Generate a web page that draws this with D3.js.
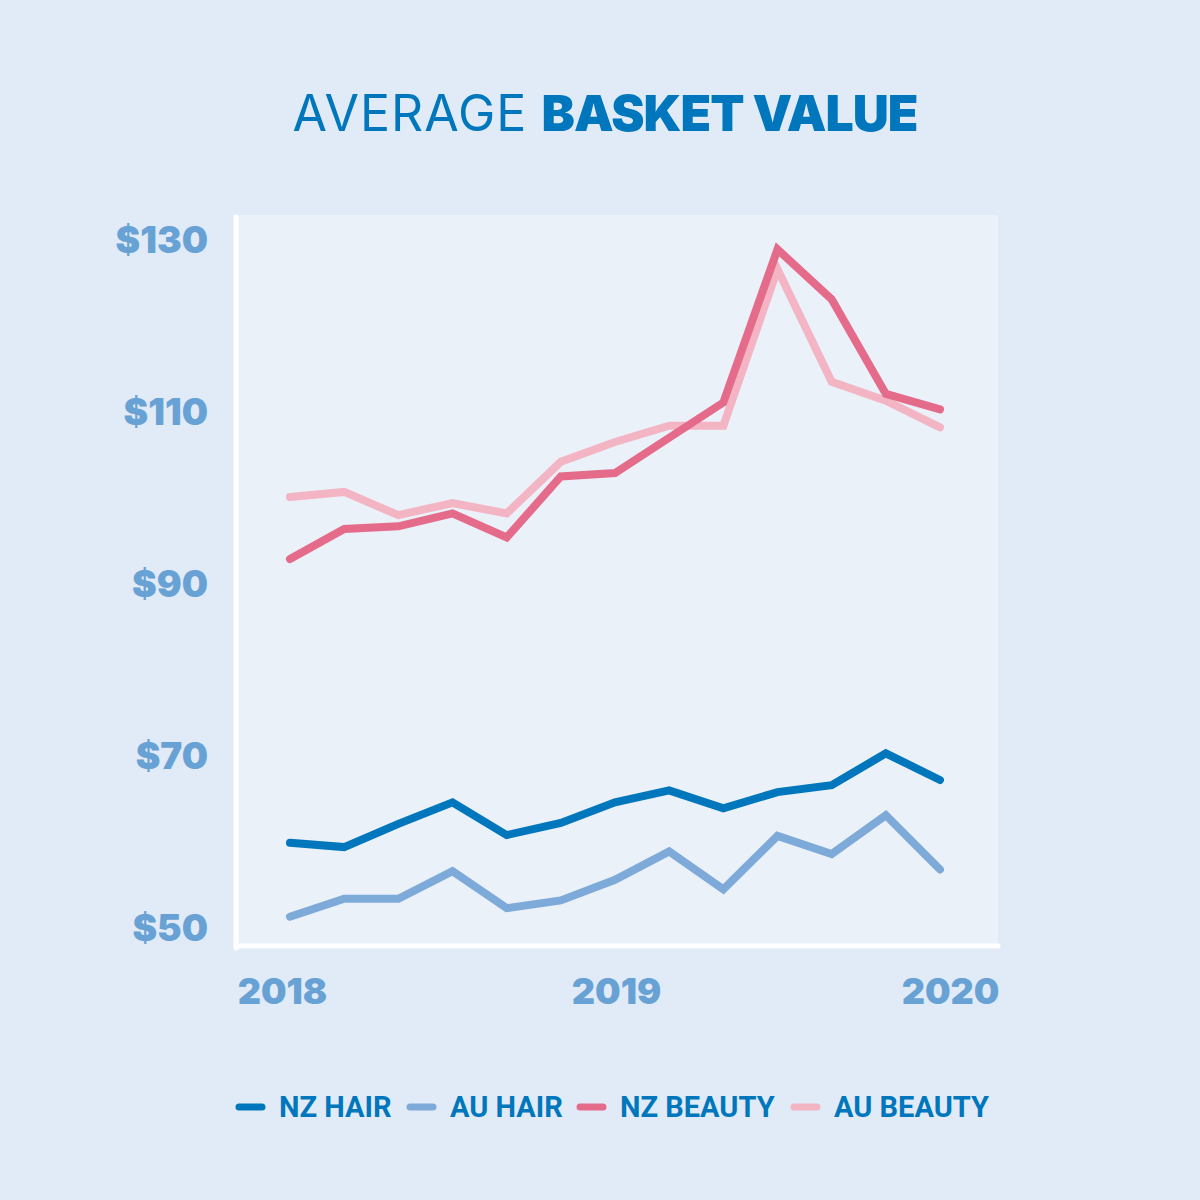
<!DOCTYPE html>
<html>
<head>
<meta charset="utf-8">
<script src="https://cdn.jsdelivr.net/npm/d3@7"></script>
<style>
  html, body { margin: 0; padding: 0; background: #e1ebf7; }
  svg { display: block; }
</style>
</head>
<body>
<div id="plot"></div>
<script>
    // Periods (roughly every two months, Jan 2018 - Jan 2020)
    const periods = ['Jan 18', 'Mar 18', 'May 18', 'Jul 18', 'Sep 18', 'Nov 18',
        'Jan 19', 'Mar 19', 'May 19', 'Jul 19', 'Sep 19', 'Nov 19', 'Jan 20'];

    const nzHair = [59.8, 59.3, 62.0, 64.5, 60.7, 62.1, 64.5, 65.9, 63.8, 65.7, 66.5, 70.2, 67.1];
    const auHair = [51.2, 53.3, 53.3, 56.5, 52.2, 53.1, 55.5, 58.8, 54.4, 60.6, 58.5, 63.0, 56.7];
    const nzBeauty = [92.8, 96.3, 96.6, 98.1, 95.3, 102.4, 102.8, 106.9, 111.0, 128.8, 123.0, 112.0, 110.2];
    const auBeauty = [100.0, 100.6, 97.9, 99.3, 98.1, 104.1, 106.4, 108.3, 108.3, 126.5, 113.4, 111.2, 108.1];

    const seriesNames = ['NZ HAIR', 'AU HAIR', 'NZ BEAUTY', 'AU BEAUTY'];
    const seriesColors = ['#0077bc', '#7eaad9', '#e56b8b', '#f3b5c4'];

    const yTicks = [50, 70, 90, 110, 130];
    const xTickLabels = ['2018', '2019', '2020'];

    const series = [nzHair, auHair, nzBeauty, auBeauty];

    const svgWidth = 1200;
    const svgHeight = 1200;
    const plot = { left: 236, right: 998, top: 215, bottom: 946 };

    const svg = d3.select('#plot')
        .append('svg')
        .attr('width', svgWidth)
        .attr('height', svgHeight);

    svg.append('rect')
        .attr('width', svgWidth)
        .attr('height', svgHeight)
        .attr('fill', '#e1ebf7');

    // Title
    const title = svg.append('text')
        .attr('x', 605)
        .attr('y', 131)
        .attr('text-anchor', 'middle')
        .attr('fill', '#0077bc')
        .style('font-family', 'Inter, sans-serif')
        .style('font-size', '50px');
    title.append('tspan').text('AVERAGE').style('font-weight', 400).style('letter-spacing', '1px');
    title.append('tspan').text(' ').style('font-weight', 400);
    title.append('tspan').text('BASKET VALUE').style('font-weight', 900).style('letter-spacing', '-1px');

    // Scales
    const xScale = d3.scalePoint()
        .domain(periods)
        .range([290, 940]);

    const yScale = d3.scaleLinear()
        .domain([47.8, 132.8])
        .range([plot.bottom, plot.top]);

    const xLabelScale = d3.scalePoint()
        .domain(xTickLabels)
        .range([282, 950]);

    // Plot background
    svg.append('rect')
        .attr('x', plot.left)
        .attr('y', plot.top)
        .attr('width', plot.right - plot.left)
        .attr('height', plot.bottom - plot.top)
        .attr('fill', '#ebf1f9');

    // Y axis labels
    const yAxis = svg.append('g')
        .attr('class', 'y-axis')
        .attr('transform', 'translate(208, 0)')
        .call(d3.axisLeft(yScale).tickValues(yTicks).tickSize(0).tickPadding(0).tickFormat(d => '$' + d));
    yAxis.select('.domain').remove();
    yAxis.selectAll('text')
        .attr('dy', '0.36em')
        .attr('fill', '#68a2d5')
        .style('font-family', 'Inter, sans-serif')
        .style('font-weight', 900)
        .style('font-size', '37px');

    // X axis labels
    const xAxis = svg.append('g')
        .attr('class', 'x-axis')
        .attr('transform', 'translate(0, 978)')
        .call(d3.axisBottom(xLabelScale).tickSize(0).tickPadding(0));
    xAxis.select('.domain').remove();
    xAxis.selectAll('text')
        .attr('dy', '0.71em')
        .attr('fill', '#68a2d5')
        .style('font-family', 'Inter, sans-serif')
        .style('font-weight', 900)
        .style('font-size', '36px');

    // White axis lines
    svg.append('line')
        .attr('x1', plot.left).attr('x2', plot.left)
        .attr('y1', plot.top + 2).attr('y2', plot.bottom + 2)
        .attr('stroke', '#ffffff').attr('stroke-width', 5).attr('stroke-linecap', 'round');
    svg.append('line')
        .attr('x1', plot.left).attr('x2', plot.right)
        .attr('y1', plot.bottom).attr('y2', plot.bottom)
        .attr('stroke', '#ffffff').attr('stroke-width', 5).attr('stroke-linecap', 'round');

    // Lines (AU drawn under NZ where they cross)
    const line = d3.line()
        .x((d, i) => xScale(periods[i]))
        .y(d => yScale(d));

    const drawOrder = [1, 0, 3, 2];
    drawOrder.forEach(k => {
        svg.append('path')
            .datum(series[k])
            .attr('d', line)
            .attr('fill', 'none')
            .attr('stroke', seriesColors[k])
            .attr('stroke-width', 8)
            .attr('stroke-linecap', 'round')
            .attr('stroke-linejoin', 'miter');
    });

    // Legend
    const legendX = [236, 407, 577, 791];
    const legend = svg.append('g').attr('class', 'legend');
    seriesNames.forEach((name, i) => {
        const g = legend.append('g').attr('transform', `translate(${legendX[i]}, 1107)`);
        g.append('line')
            .attr('x1', 3).attr('x2', 26)
            .attr('y1', 0).attr('y2', 0)
            .attr('stroke', seriesColors[i])
            .attr('stroke-width', 7)
            .attr('stroke-linecap', 'round');
        g.append('text')
            .attr('x', 43)
            .attr('y', 0)
            .attr('dy', '0.36em')
            .attr('fill', '#0077bc')
            .style('font-family', 'Roboto, sans-serif')
            .style('font-weight', 700)
            .style('font-size', '29px')
            .text(name);
    });
</script>
</body>
</html>
